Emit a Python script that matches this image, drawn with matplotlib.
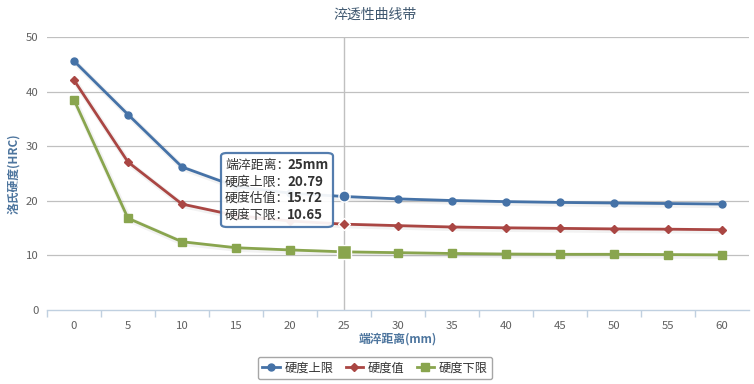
import matplotlib
matplotlib.use("Agg")
import matplotlib.pyplot as plt
from matplotlib.patches import FancyBboxPatch
from matplotlib.lines import Line2D

plt.rcParams['font.family'] = ['Noto Sans CJK SC', 'DejaVu Sans']

distances = [0, 5, 10, 15, 20, 25, 30, 35, 40, 45, 50, 55, 60]
upper = [45.6, 35.8, 26.2, 22.6, 21.4, 20.79, 20.35, 20.05, 19.85, 19.7, 19.6, 19.5, 19.4]
estimate = [42.1, 27.1, 19.4, 17.3, 16.3, 15.72, 15.45, 15.2, 15.05, 14.95, 14.85, 14.8, 14.7]
lower = [38.5, 16.8, 12.5, 11.4, 11.0, 10.65, 10.5, 10.35, 10.25, 10.2, 10.2, 10.15, 10.1]

series_names = ['硬度上限', '硬度值', '硬度下限']
title = '淬透性曲线带'
xlabel = '端淬距离(mm)'
ylabel = '洛氏硬度(HRC)'
yticks = [0, 10, 20, 30, 40, 50]
hover_index = 5
tooltip_labels = ['端淬距离：', '硬度上限：', '硬度估值：', '硬度下限：']

colors = ['#4572A7', '#AA4643', '#89A54E']
markers = ['o', 'D', 's']
msizes = [5, 4, 6]

W, H = 754, 384
fig = plt.figure(figsize=(W / 100, H / 100), dpi=100)
ax = fig.add_axes([47 / W, 1 - 310 / H, (749 - 47) / W, (310 - 37) / H])

idx = list(range(len(distances)))
ax.set_xlim(-0.5, len(distances) - 0.5)
ax.set_ylim(0, 50)

for yv in yticks[1:]:
    ax.axhline(yv, color='#C0C0C0', lw=0.9, zorder=0)

# crosshair
ax.axvline(hover_index, color='#C0C0C0', lw=1, zorder=1)

for vals, c, m, ms in zip([upper, estimate, lower], colors, markers, msizes):
    # soft shadow
    ax.plot([i + 0.02 for i in idx], [v - 0.25 for v in vals], color='black',
            alpha=0.05, lw=4, zorder=2, solid_capstyle='round')
    ax.plot(idx, vals, color=c, lw=2.0, marker=m, ms=ms, zorder=3,
            markeredgecolor=c)
    ax.plot([hover_index], [vals[hover_index]], marker=m, ms=ms * 1.6,
            color=c, markeredgecolor='white', markeredgewidth=1, zorder=4, ls='none')

ax.set_yticks(yticks)
ax.set_yticklabels([str(v) for v in yticks], color='#606060', fontsize=8.2)
ax.tick_params(axis='y', length=0, pad=6)

ax.set_xticks(idx)
ax.set_xticklabels([str(d) for d in distances], color='#606060', fontsize=8.2)
ax.set_xticks([i + 0.5 for i in idx[:-1]] + [-0.5], minor=True)
ax.tick_params(axis='x', which='major', length=0, pad=8)
ax.tick_params(axis='x', which='minor', length=5, color='#C0D0E0', width=1)

for s in ['top', 'right', 'left']:
    ax.spines[s].set_visible(False)
ax.spines['bottom'].set_color('#C0D0E0')
ax.spines['bottom'].set_linewidth(1)

ax.set_xlabel(xlabel, color='#4d759e', fontsize=8.5, fontweight='bold', labelpad=1)
ax.set_ylabel(ylabel, color='#4d759e', fontsize=8.5, fontweight='bold', labelpad=4)

fig.text(375 / W, 1 - 15 / H, title, ha='center', va='center', fontsize=10,
         color='#3E576F')

# tooltip
def fx(px):
    return px / W

def fy(py):
    return 1 - py / H

box = FancyBboxPatch((fx(221), fy(227)), fx(333) - fx(221), fy(153) - fy(227),
                     boxstyle='round,pad=0,rounding_size=0.008',
                     transform=fig.transFigure, facecolor='white', alpha=0.92,
                     edgecolor=colors[0], lw=1.6, zorder=10)
fig.patches.append(box)
values = [f'{distances[hover_index]}mm', f'{upper[hover_index]:.2f}',
          f'{estimate[hover_index]:.2f}', f'{lower[hover_index]:.2f}']
for k, (lab, val) in enumerate(zip(tooltip_labels, values)):
    yy = fy(165.5 + k * 16.5)
    fig.text(fx(225), yy, lab, ha='left', va='center', fontsize=9.3,
             color='#333333', zorder=11)
    fig.text(fx(287), yy, val, ha='left', va='center', fontsize=9.6,
             color='#333333', fontweight='bold', zorder=11)

# legend
handles = [Line2D([0], [0], color=c, lw=2.0, marker=m, ms=ms)
           for c, m, ms in zip(colors, markers, msizes)]
leg = fig.legend(handles, series_names, loc='center', ncol=3,
                 bbox_to_anchor=(375 / W, 1 - 368 / H), fontsize=8.8,
                 frameon=True, handlelength=1.4, columnspacing=1.0,
                 handletextpad=0.4, borderpad=0.4, fancybox=True)
leg.get_frame().set_edgecolor('#909090')
leg.get_frame().set_linewidth(1)
for t in leg.get_texts():
    t.set_color('#333333')

fig.savefig('out.png', dpi=100)
